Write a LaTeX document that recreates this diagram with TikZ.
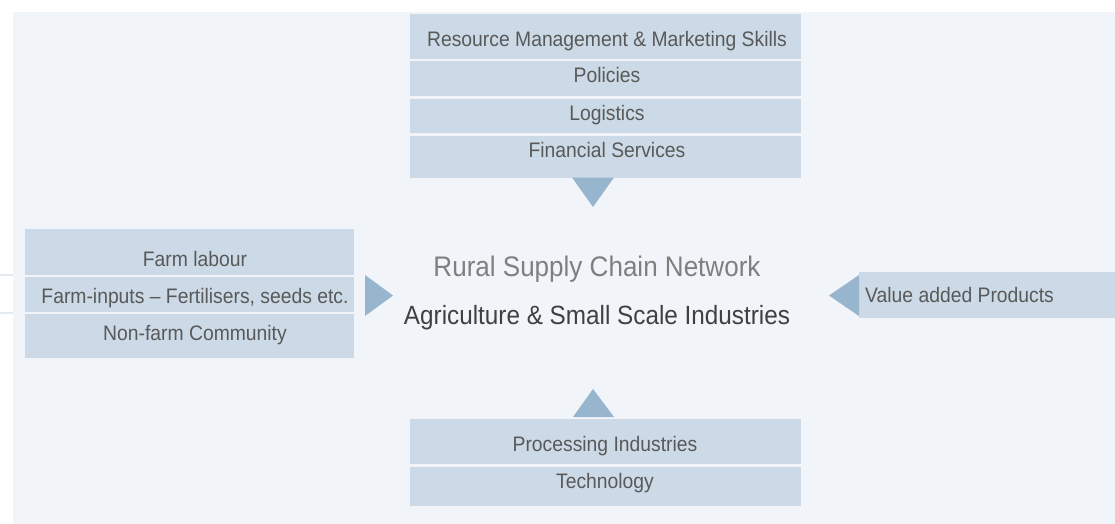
\documentclass[tikz,border=0pt]{standalone}
\usepackage{fontspec}
\setmainfont{Liberation Sans}[FakeStretch=0.92]
\usetikzlibrary{calc}
\definecolor{panelbg}{HTML}{F1F5F9}
\definecolor{rowfill}{HTML}{CBDAE6}
\definecolor{arrowfill}{HTML}{97B5CD}
\definecolor{rowtext}{HTML}{595959}
\definecolor{titlegray}{HTML}{7F7F7F}
\definecolor{titledark}{HTML}{404040}
\definecolor{edgeline}{HTML}{E4EAF0}
\begin{document}
\begin{tikzpicture}[x=1pt,y=-1pt,
  rowbox/.style={fill=rowfill, draw=none, inner sep=0pt, outer sep=0pt},
  rowlabel/.style={anchor=base, inner sep=0pt, text=rowtext, font=\fontsize{21}{25}\selectfont},
  pointer/.style={fill=arrowfill, draw=none}]
\useasboundingbox (0,0) rectangle (1115,523);
% background panel
\fill[panelbg] (13,12) rectangle (1116,524);
\draw[edgeline, line width=2pt] (0,275) -- (13,275);
\draw[edgeline, line width=2pt] (0,313) -- (13,313);

% top stack
\node[rowbox, minimum width=391pt, minimum height=45pt] (t1) at (605.5,36.5) {};
\node[rowbox, minimum width=391pt, minimum height=35pt] (t2) at (605.5,78.5) {};
\node[rowbox, minimum width=391pt, minimum height=34pt] (t3) at (605.5,116) {};
\node[rowbox, minimum width=391pt, minimum height=42pt] (t4) at (605.5,157) {};
\node[rowlabel] (t1l) at (607,46) {Resource Management \& Marketing Skills};
\node[rowlabel] (t2l) at (607,82.7) {Policies};
\node[rowlabel] (t3l) at (607,120.5) {Logistics};
\node[rowlabel] (t4l) at (607,157.3) {Financial Services};

% left stack
\node[rowbox, minimum width=329pt, minimum height=45.5pt] (l1) at (189.5,251.75) {};
\node[rowbox, minimum width=329pt, minimum height=35pt] (l2) at (189.5,294.5) {};
\node[rowbox, minimum width=329pt, minimum height=44pt] (l3) at (189.5,336) {};
\node[rowlabel] (l1l) at (195,266) {Farm labour};
\node[rowlabel] (l2l) at (195,303) {Farm-inputs -- Fertilisers, seeds etc.};
\node[rowlabel] (l3l) at (195,340.7) {Non-farm Community};

% right box
\node[rowbox, minimum width=257pt, minimum height=46pt] (r1) at (987.5,295) {};
\node[rowlabel, anchor=base west] (r1l) at (865,302.3) {Value added Products};

% bottom stack
\node[rowbox, minimum width=391pt, minimum height=45pt] (b1) at (605.5,441.5) {};
\node[rowbox, minimum width=391pt, minimum height=39pt] (b2) at (605.5,486.5) {};
\node[rowlabel] (b1l) at (605,451) {Processing Industries};
\node[rowlabel] (b2l) at (605,488.3) {Technology};

% centre titles
\node[anchor=base, inner sep=0pt, text=titlegray, font=\fontsize{28.3}{33}\selectfont] (title) at (597,276) {Rural Supply Chain Network};
\node[anchor=base, inner sep=0pt, text=titledark, font=\fontsize{26.4}{31}\selectfont] (sub) at (597,324.3) {Agriculture \& Small Scale Industries};

% pointers towards the centre
\coordinate (ptop) at (593,207);
\coordinate (pleft) at (393,295.5);
\coordinate (pright) at (829,295.5);
\coordinate (pbot) at (593,389);
\fill[pointer] (572,177.5) -- (614,177.5) -- (ptop) -- cycle;
\fill[pointer] (365,275) -- (365,316) -- (pleft) -- cycle;
\fill[pointer] (859,275) -- (859,316) -- (pright) -- cycle;
\fill[pointer] (573,417) -- (614,417) -- (pbot) -- cycle;
\end{tikzpicture}
\end{document}
